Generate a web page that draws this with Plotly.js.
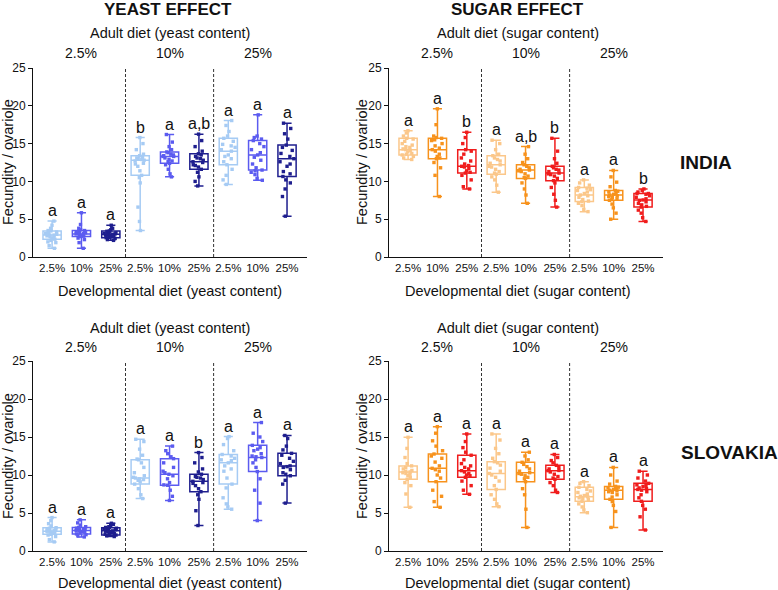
<!DOCTYPE html>
<html>
<head>
<meta charset="utf-8">
<script src="https://cdn.plot.ly/plotly-3.0.1.min.js"></script>
<style>
  html, body { margin: 0; padding: 0; background: #fff; }
  #chart { width: 778px; height: 590px; }
</style>
</head>
<body>
<div id="chart"></div>
<script>
// developmental diet (x ticks) and adult diet (groups)
const devLabels = ['2.5%', '10%', '25%', '2.5%', '10%', '25%', '2.5%', '10%', '25%'];
const adultLabels = ['2.5%', '10%', '25%'];
const yeastColors = ['#a6cbf4', '#5b5bf0', '#1e1e8e'];
const sugarColors = ['#fbc78a', '#f7921c', '#f01c1c'];

// INDIA - yeast effect
const indiaYeastMin = [1.15, 1.15, 2.2, 3.5, 10.6, 9.4, 9.6, 10.15, 5.4];
const indiaYeastQ1  = [2.35, 2.7, 2.55, 10.8, 12.4, 11.6, 12.2, 11.5, 10.65];
const indiaYeastMed = [2.9, 3.05, 3.0, 12.8, 13.3, 12.6, 14.0, 13.5, 13.0];
const indiaYeastQ3  = [3.45, 3.5, 3.45, 13.4, 13.9, 13.65, 15.7, 15.4, 14.8];
const indiaYeastMax = [4.75, 5.85, 4.2, 15.8, 16.2, 16.25, 18.05, 18.8, 17.7];
const indiaYeastLetters = ['a', 'a', 'a', 'b', 'a', 'a,b', 'a', 'a', 'a'];
const indiaYeastPts = [
  [1.15, 1.5, 1.9, 2.2, 2.35, 2.5, 2.7, 2.8, 2.9, 2.9, 3.0, 3.1, 3.3, 3.45, 3.5, 3.8, 4.2, 4.75, 2.6, 3.2, 2.0],
  [1.15, 1.9, 2.3, 2.7, 2.8, 2.9, 3.0, 3.05, 3.1, 3.2, 3.3, 3.4, 3.5, 3.6, 3.8, 4.3, 5.85, 2.75, 3.15, 2.5],
  [2.2, 2.3, 2.45, 2.55, 2.6, 2.7, 2.8, 2.9, 2.9, 3.0, 3.0, 3.1, 3.1, 3.2, 3.3, 3.4, 3.45, 3.6, 3.8, 4.2, 2.75, 3.05],
  [3.5, 4.7, 6.6, 9.8, 10.5, 10.8, 11.4, 12.0, 12.4, 12.7, 12.8, 12.9, 13.1, 13.2, 13.4, 13.6, 14.2, 15.0, 15.8, 12.3, 13.0],
  [10.6, 11.0, 11.6, 12.2, 12.4, 12.7, 12.9, 13.1, 13.3, 13.3, 13.5, 13.6, 13.8, 13.9, 14.2, 14.6, 15.2, 16.2, 12.6, 13.4],
  [9.4, 10.0, 10.6, 11.2, 11.6, 11.9, 12.2, 12.5, 12.6, 12.8, 13.0, 13.3, 13.5, 13.65, 14.0, 14.6, 15.4, 16.25, 12.1, 13.1],
  [9.6, 10.2, 10.8, 11.6, 12.2, 12.6, 13.0, 13.5, 14.0, 14.2, 14.5, 14.9, 15.3, 15.7, 16.0, 16.6, 17.4, 18.05, 13.3, 14.7],
  [10.15, 10.4, 10.9, 11.2, 11.5, 11.8, 12.3, 12.8, 13.2, 13.5, 13.8, 14.2, 14.6, 15.0, 15.4, 15.8, 16.0, 18.8, 11.4, 15.6],
  [5.4, 8.0, 9.0, 9.8, 10.2, 10.65, 11.3, 12.0, 12.6, 13.0, 13.3, 13.7, 14.1, 14.5, 14.8, 15.6, 16.3, 17.0, 17.7, 12.3, 11.0]
];

// INDIA - sugar effect
const indiaSugarMin = [12.9, 8.0, 9.0, 8.57, 7.1, 6.6, 6.0, 5.0, 4.7];
const indiaSugarQ1  = [13.5, 13.0, 11.1, 10.95, 10.4, 10.1, 7.33, 7.5, 6.6];
const indiaSugarMed = [14.2, 14.2, 12.0, 12.2, 11.5, 11.1, 8.2, 8.2, 7.55];
const indiaSugarQ3  = [15.7, 15.7, 14.2, 13.4, 12.2, 12.0, 9.2, 8.8, 8.4];
const indiaSugarMax = [16.7, 19.6, 16.5, 15.45, 14.6, 15.7, 10.2, 11.45, 9.0];
const indiaSugarLetters = ['a', 'a', 'b', 'a', 'a,b', 'b', 'a', 'a', 'b'];
const indiaSugarPts = [
  [12.9, 13.1, 13.3, 13.5, 13.7, 13.9, 14.1, 14.2, 14.3, 14.5, 14.8, 15.0, 15.3, 15.6, 15.7, 16.0, 16.4, 16.7, 13.6, 14.6],
  [8.0, 10.8, 11.8, 12.5, 13.0, 13.3, 13.6, 14.0, 14.2, 14.4, 14.7, 15.0, 15.4, 15.7, 15.8, 16.0, 17.5, 19.6, 13.1, 15.5],
  [9.0, 9.3, 10.2, 10.8, 11.1, 11.4, 11.7, 11.9, 12.0, 12.3, 12.7, 13.1, 13.6, 14.0, 14.2, 15.0, 15.8, 16.5, 11.2, 12.1],
  [8.57, 9.5, 10.2, 10.6, 10.95, 11.3, 11.6, 11.9, 12.2, 12.4, 12.7, 12.9, 13.1, 13.4, 13.6, 14.2, 15.0, 15.45, 12.0, 11.1],
  [7.1, 8.2, 9.0, 9.8, 10.4, 10.7, 11.0, 11.3, 11.5, 11.6, 11.8, 12.0, 12.2, 12.5, 13.0, 13.6, 14.6, 11.4, 10.5],
  [6.6, 7.5, 8.3, 9.2, 9.8, 10.1, 10.4, 10.7, 11.0, 11.1, 11.3, 11.6, 11.8, 12.0, 12.4, 13.0, 14.0, 15.7, 10.9, 11.5],
  [6.0, 6.3, 6.8, 7.1, 7.33, 7.6, 7.9, 8.1, 8.2, 8.4, 8.6, 8.9, 9.1, 9.2, 9.5, 9.8, 10.2, 7.4, 8.8],
  [5.0, 5.8, 6.5, 7.0, 7.5, 7.7, 7.9, 8.0, 8.2, 8.3, 8.4, 8.6, 8.7, 8.8, 9.3, 9.9, 10.6, 11.45, 8.1, 7.6],
  [4.7, 5.2, 5.8, 6.2, 6.6, 6.9, 7.1, 7.3, 7.5, 7.55, 7.7, 7.9, 8.1, 8.3, 8.4, 8.6, 8.8, 9.0, 8.4, 6.7]
];

// SLOVAKIA - yeast effect
const slovakYeastMin = [1.2, 1.85, 1.9, 6.9, 6.65, 3.35, 5.5, 4.0, 6.3];
const slovakYeastQ1  = [2.2, 2.25, 2.1, 8.8, 8.65, 7.8, 8.8, 10.45, 9.9];
const slovakYeastMed = [2.6, 2.7, 2.65, 9.6, 10.1, 9.17, 11.6, 12.3, 11.2];
const slovakYeastQ3  = [3.07, 3.1, 3.07, 12.0, 12.15, 10.1, 12.7, 13.9, 12.85];
const slovakYeastMax = [4.4, 4.1, 3.65, 14.7, 13.8, 12.95, 15.05, 16.9, 15.2];
const slovakYeastLetters = ['a', 'a', 'a', 'a', 'a', 'b', 'a', 'a', 'a'];
const slovakYeastPts = [
  [1.2, 1.5, 1.9, 2.1, 2.2, 2.35, 2.45, 2.55, 2.6, 2.7, 2.8, 2.9, 3.0, 3.07, 3.3, 3.6, 4.0, 4.4, 2.5, 2.75],
  [1.85, 2.0, 2.15, 2.25, 2.4, 2.5, 2.6, 2.7, 2.7, 2.8, 2.9, 3.0, 3.1, 3.2, 3.4, 3.7, 4.1, 2.55, 2.95],
  [1.9, 2.0, 2.1, 2.2, 2.2, 2.3, 2.4, 2.5, 2.6, 2.65, 2.7, 2.8, 2.9, 3.0, 3.07, 3.1, 3.2, 3.35, 3.5, 3.65, 2.45, 2.85],
  [6.9, 7.4, 8.2, 8.8, 9.1, 9.3, 9.5, 9.6, 9.7, 9.9, 10.3, 11.0, 11.6, 12.0, 12.6, 13.4, 14.4, 14.7, 9.4, 12.1],
  [6.65, 7.2, 8.0, 8.65, 9.0, 9.5, 9.9, 10.1, 10.5, 11.0, 11.6, 12.15, 12.4, 12.8, 13.2, 13.8, 8.7, 10.3],
  [3.35, 5.3, 6.8, 7.4, 7.8, 8.2, 8.6, 8.9, 9.17, 9.4, 9.6, 9.8, 10.1, 10.4, 10.8, 11.6, 12.3, 12.95, 9.0, 9.7],
  [5.5, 5.8, 6.2, 7.0, 8.3, 8.8, 9.6, 10.5, 11.2, 11.6, 11.9, 12.2, 12.5, 12.7, 13.2, 14.0, 14.8, 15.05, 12.0, 10.8],
  [4.0, 6.3, 8.0, 9.5, 10.45, 11.0, 11.6, 12.0, 12.3, 12.5, 12.8, 13.2, 13.6, 13.9, 14.4, 15.0, 15.5, 16.9, 12.4, 13.4],
  [6.3, 8.8, 9.3, 9.9, 10.3, 10.7, 11.0, 11.2, 11.5, 11.8, 12.2, 12.6, 12.85, 13.3, 13.8, 14.8, 15.2, 11.1, 10.1]
];

// SLOVAKIA - sugar effect
const slovakSugarMin = [5.75, 5.75, 7.46, 5.83, 3.1, 7.7, 5.04, 3.1, 2.76];
const slovakSugarQ1  = [9.43, 9.12, 9.7, 8.1, 9.12, 9.43, 6.54, 6.8, 6.54];
const slovakSugarMed = [10.4, 10.88, 10.57, 10.2, 10.3, 10.57, 7.15, 8.0, 8.1];
const slovakSugarQ3  = [11.2, 12.76, 12.6, 11.75, 11.67, 11.27, 8.38, 8.5, 8.9];
const slovakSugarMax = [14.96, 16.36, 15.4, 15.4, 13.0, 12.7, 9.12, 11.0, 10.5];
const slovakSugarLetters = ['a', 'a', 'a', 'a', 'a', 'a', 'a', 'a', 'a'];
const slovakSugarPts = [
  [5.75, 7.5, 8.6, 9.0, 9.43, 9.7, 9.9, 10.1, 10.3, 10.4, 10.6, 10.8, 11.0, 11.2, 11.5, 12.3, 13.5, 14.96, 10.5, 10.2],
  [5.75, 6.5, 7.2, 8.0, 9.12, 9.6, 10.0, 10.5, 10.88, 11.2, 11.7, 12.2, 12.76, 13.2, 13.8, 14.5, 15.5, 16.36, 10.7, 12.5],
  [7.46, 8.0, 8.6, 9.2, 9.7, 9.9, 10.2, 10.4, 10.57, 10.8, 11.0, 11.5, 12.0, 12.6, 13.0, 13.6, 14.4, 15.4, 10.0, 11.2],
  [5.83, 6.2, 6.8, 7.4, 8.1, 8.6, 9.2, 9.7, 10.2, 10.5, 10.9, 11.3, 11.75, 12.2, 12.8, 13.5, 14.6, 15.4, 10.0, 11.6],
  [3.1, 5.5, 7.4, 8.2, 9.12, 9.5, 9.9, 10.1, 10.3, 10.5, 10.8, 11.1, 11.4, 11.67, 12.0, 12.5, 13.0, 10.2, 9.7],
  [7.7, 8.0, 8.6, 9.0, 9.43, 9.8, 10.1, 10.4, 10.57, 10.8, 11.0, 11.27, 11.6, 11.9, 12.3, 12.7, 10.6, 9.6],
  [5.04, 5.4, 5.8, 6.2, 6.54, 6.8, 7.0, 7.15, 7.3, 7.5, 7.7, 7.9, 8.1, 8.38, 8.6, 8.9, 9.12, 7.2, 6.9],
  [3.1, 5.2, 6.0, 6.5, 6.8, 7.1, 7.4, 7.7, 7.9, 8.0, 8.1, 8.2, 8.3, 8.5, 8.8, 9.2, 10.0, 11.0, 7.8, 8.4],
  [2.76, 4.5, 5.5, 6.0, 6.54, 7.0, 7.4, 7.8, 8.0, 8.1, 8.3, 8.5, 8.7, 8.9, 9.2, 9.6, 10.0, 10.5, 8.6, 8.2]
];

const FONT = 'Liberation Sans, Arial, sans-serif';
const BOXW = 0.62;

const panels = [
  {n: '',  min: indiaYeastMin, q1: indiaYeastQ1, med: indiaYeastMed, q3: indiaYeastQ3, max: indiaYeastMax, pts: indiaYeastPts, letters: indiaYeastLetters, colors: yeastColors},
  {n: '2', min: indiaSugarMin, q1: indiaSugarQ1, med: indiaSugarMed, q3: indiaSugarQ3, max: indiaSugarMax, pts: indiaSugarPts, letters: indiaSugarLetters, colors: sugarColors},
  {n: '3', min: slovakYeastMin, q1: slovakYeastQ1, med: slovakYeastMed, q3: slovakYeastQ3, max: slovakYeastMax, pts: slovakYeastPts, letters: slovakYeastLetters, colors: yeastColors},
  {n: '4', min: slovakSugarMin, q1: slovakSugarQ1, med: slovakSugarMed, q3: slovakSugarQ3, max: slovakSugarMax, pts: slovakSugarPts, letters: slovakSugarLetters, colors: sugarColors}
];

const traces = [];
const annotations = [];
const shapes = [];

panels.forEach((p) => {
  const xa = 'x' + p.n, ya = 'y' + p.n;
  for (let c = 0; c < 3; c++) {
    const idx = [c, c + 3, c + 6];
    // the box itself, from the read-off stats
    traces.push({
      type: 'box', xaxis: xa, yaxis: ya, x: idx,
      q1: idx.map(i => p.q1[i]), median: idx.map(i => p.med[i]), q3: idx.map(i => p.q3[i]),
      lowerfence: idx.map(i => p.min[i]), upperfence: idx.map(i => p.max[i]),
      width: BOXW, whiskerwidth: 0.5, boxpoints: false,
      line: {color: p.colors[c], width: 1.5}, fillcolor: 'rgba(0,0,0,0)',
      showlegend: false, hoverinfo: 'y'
    });
    // the individual flies, jittered by plotly
    const px = [], py = [];
    idx.forEach(i => p.pts[i].forEach(v => { px.push(i); py.push(v); }));
    traces.push({
      type: 'box', xaxis: xa, yaxis: ya, x: px, y: py,
      width: BOXW, boxpoints: 'all', jitter: 0.8, pointpos: 0,
      line: {color: 'rgba(0,0,0,0)', width: 0}, fillcolor: 'rgba(0,0,0,0)',
      marker: {color: p.colors[c], symbol: 'square', size: 3.4},
      showlegend: false, hoveron: 'points'
    });
  }
  // letters over each box
  p.letters.forEach((t, i) => {
    annotations.push({xref: xa, yref: ya, x: i, y: p.max[i], text: t, showarrow: false,
      yanchor: 'bottom', yshift: 0, font: {family: FONT, size: 16, color: '#111'}});
  });
  // adult diet group labels
  const topPx = p.n === '' || p.n === '2' ? 53 : 347;
  adultLabels.forEach((t, g) => {
    annotations.push({xref: xa, yref: 'paper', x: g * 3 + 1, y: 1 - topPx / 590, text: t, showarrow: false,
      yanchor: 'middle', font: {family: FONT, size: 14, color: '#111'}});
  });
  [2.5, 5.5].forEach(v => shapes.push({type: 'line', xref: xa, yref: ya, x0: v, x1: v, y0: 0, y1: 25,
    line: {color: '#333', width: 1, dash: '3px,2px'}}));
});

function txt(x, y, text, size, extra) {
  annotations.push(Object.assign({xref: 'paper', yref: 'paper', x: x / 778, y: 1 - y / 590, text: text,
    showarrow: false, xanchor: 'center', yanchor: 'middle', font: {family: FONT, size: size, color: '#111'}}, extra || {}));
}

txt(168, 10, '<b>YEAST EFFECT</b>', 17);
txt(517, 10, '<b>SUGAR EFFECT</b>', 17);
txt(170, 33, 'Adult diet (yeast content)', 14.5);
txt(518, 33, 'Adult diet (sugar content)', 14.5);
txt(170, 328, 'Adult diet (yeast content)', 14.5);
txt(518, 328, 'Adult diet (sugar content)', 14.5);
txt(170, 291, 'Developmental diet (yeast content)', 14.5);
txt(518, 291, 'Developmental diet (sugar content)', 14.5);
txt(170, 583, 'Developmental diet (yeast content)', 14.5);
txt(518, 583, 'Developmental diet (sugar content)', 14.5);
txt(8, 162, 'Fecundity / ovariole', 14.5, {textangle: -90});
txt(362, 162, 'Fecundity / ovariole', 14.5, {textangle: -90});
txt(8, 456, 'Fecundity / ovariole', 14.5, {textangle: -90});
txt(362, 456, 'Fecundity / ovariole', 14.5, {textangle: -90});
txt(706, 162, '<b>INDIA</b>', 19);
txt(729, 452, '<b>SLOVAKIA</b>', 19);

function xAxis(l, r, anchor) {
  return {domain: [l / 778, r / 778], anchor: anchor, range: [-0.65, 8.68], tickvals: [0, 1, 2, 3, 4, 5, 6, 7, 8],
    ticktext: devLabels, showline: true, linecolor: '#111', linewidth: 1, ticks: '', showgrid: false,
    zeroline: false, tickfont: {family: FONT, size: 11.5, color: '#111'}, fixedrange: true};
}
function yAxis(top, bottom, anchor) {
  return {domain: [1 - bottom / 590, 1 - top / 590], anchor: anchor, range: [0, 25], dtick: 5,
    showline: true, linecolor: '#111', linewidth: 1, ticks: 'outside', ticklen: 4, tickcolor: '#111',
    showgrid: false, zeroline: false, tickfont: {family: FONT, size: 12, color: '#111'}, fixedrange: true};
}

const layout = {
  width: 778, height: 590,
  margin: {l: 0, r: 0, t: 0, b: 0},
  paper_bgcolor: '#fff', plot_bgcolor: '#fff',
  showlegend: false, boxmode: 'overlay',
  xaxis: xAxis(33, 307, 'y'), yaxis: yAxis(68, 257, 'x'),
  xaxis2: xAxis(389, 663, 'y2'), yaxis2: yAxis(68, 257, 'x2'),
  xaxis3: xAxis(33, 307, 'y3'), yaxis3: yAxis(361, 551, 'x3'),
  xaxis4: xAxis(389, 663, 'y4'), yaxis4: yAxis(361, 551, 'x4'),
  annotations: annotations,
  shapes: shapes
};

Plotly.newPlot('chart', traces, layout, {displayModeBar: false, staticPlot: true});
</script>
</body>
</html>
